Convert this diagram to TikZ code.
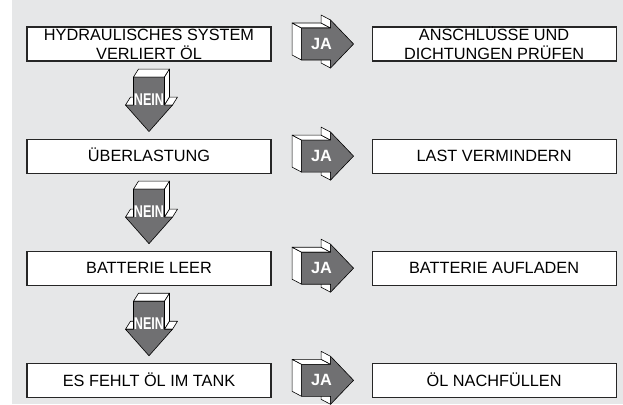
\documentclass[tikz,border=0pt]{standalone}
\usepackage{fontspec}
\setmainfont{Liberation Sans}
\usepackage{graphicx}
\usetikzlibrary{positioning}

\definecolor{hintergrund}{RGB}{230,231,232}
\definecolor{pfeilgrau}{RGB}{112,112,114}

\tikzset{
  kasten/.style={draw=black!85, line width=1.1pt, fill=white, align=center,
    minimum width=244pt, minimum height=34pt, inner sep=0pt,
    text height=11.5pt, text depth=0pt, font=\fontsize{16.3}{19}\selectfont},
  zweizeilig/.style={text height=30.5pt, text depth=-12.5pt},
  pfeiltext/.style={text=white, inner sep=0pt, font=\fontsize{16.3}{19}\selectfont\bfseries},
  seite/.style={fill=white, draw=black, line width=0.6pt, line join=round},
  front/.style={fill=pfeilgrau, draw=black, line width=0.6pt, line join=round},
  japfeil/.pic={
    \draw[seite] (0,-16) -- (0,16) -- (-9.5,11) -- (-9.5,-21) -- cycle;
    \draw[seite] (0,-16) -- (29,-16) -- (19.5,-21) -- (-9.5,-21) -- cycle;
    \draw[seite] (29,-16) -- (29,-24) -- (19.5,-29) -- (19.5,-21) -- cycle;
    \draw[seite] (29,16) -- (29,24) -- (19.5,19) -- (19.5,11) -- cycle;
    \draw[front] (0,-16) -- (29,-16) -- (29,-24) -- (52,0) -- (29,24) -- (29,16) -- (0,16) -- cycle;
    \node[pfeiltext, anchor=base] (-text) at (20,5.5) {JA};
  },
  neinpfeil/.pic={
    \draw[seite] (-15.5,0) -- (15.5,0) -- (20.5,-8) -- (-10.5,-8) -- cycle;
    \draw[seite] (15.5,0) -- (20.5,-8) -- (20.5,20) -- (15.5,28) -- cycle;
    \draw[seite] (15.5,28) -- (23.5,28) -- (28.5,20) -- (20.5,20) -- cycle;
    \draw[seite] (-23.5,28) -- (-15.5,28) -- (-10.5,20) -- (-18.5,20) -- cycle;
    \draw[front] (-15.5,0) -- (15.5,0) -- (15.5,28) -- (23.5,28) -- (0,54.5) -- (-23.5,28) -- (-15.5,28) -- cycle;
    \node[pfeiltext, anchor=base] (-text) at (0,28.5) {\fontsize{17}{19}\selectfont\scalebox{0.74}[1]{NEIN}};
  }
}

\begin{document}
\begin{tikzpicture}[x=1pt,y=-1pt]

\useasboundingbox (0,0) rectangle (623,404);
\fill[hintergrund] (12,0) rectangle (623,404);

\node[kasten, zweizeilig] (f1) at (149,44) {HYDRAULISCHES SYSTEM\\VERLIERT ÖL};
\node[kasten, below=77pt of f1] (f2) {ÜBERLASTUNG};
\node[kasten, below=77pt of f2] (f3) {BATTERIE LEER};
\node[kasten, below=77pt of f3] (f4) {ES FEHLT ÖL IM TANK};

\node[kasten, zweizeilig, right=100pt of f1] (a1) {ANSCHLÜSSE UND\\DICHTUNGEN PRÜFEN};
\node[kasten, right=100pt of f2] (a2) {LAST VERMINDERN};
\node[kasten, right=100pt of f3] (a3) {BATTERIE AUFLADEN};
\node[kasten, right=100pt of f4] (a4) {ÖL NACHFÜLLEN};

\foreach \i in {1,...,4}
  \pic (ja\i) at ([xshift=30pt]f\i.east) {japfeil};

\foreach \i in {1,2,3}
  \pic (nein\i) at ([yshift=-15.5pt]f\i.south) {neinpfeil};

\end{tikzpicture}
\end{document}
